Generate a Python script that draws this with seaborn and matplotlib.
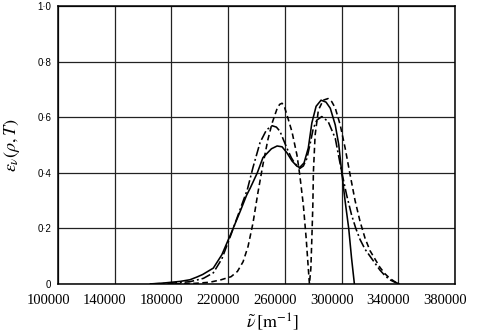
import pandas as pd
import matplotlib
matplotlib.use('Agg')
import matplotlib.pyplot as plt
import matplotlib.transforms as mtransforms
import seaborn as sns

# values (wavenumber in m^-1, emissivity)
solid_nu = [165000, 174000, 186000, 193000, 198000, 202000, 209500, 215500, 222000,
            228500, 233000, 235500, 240500, 244500, 250500, 254500, 258000, 261500,
            265000, 268500, 270500, 273500, 276500, 279000, 282000, 285500, 289000,
            292000, 295500, 298000, 300000, 302500, 305000, 307000, 309000]
solid_eps = [0.0, 0.003, 0.009, 0.015, 0.025, 0.034, 0.057, 0.105, 0.182,
             0.262, 0.32, 0.345, 0.40, 0.455, 0.487, 0.497, 0.494, 0.472,
             0.443, 0.424, 0.420, 0.436, 0.49, 0.58, 0.64, 0.662, 0.655,
             0.633, 0.573, 0.501, 0.405, 0.297, 0.2, 0.093, 0.0]

dashed_nu = [182500, 196500, 207000, 215000, 222000, 226500, 230500, 234000, 237500,
             241000, 244500, 248000, 251000, 254500, 256300, 258000, 259800, 261500,
             265000, 268500, 270500, 273000, 275000, 276500, 277300, 278300, 279000,
             279700, 280100, 281300, 283600, 287000, 290500, 293000, 295500, 299000,
             302500, 306000, 309500, 313000, 316500, 320000, 323500, 327000, 330500,
             334000, 337500, 341000]
dashed_eps = [0.0, 0.002, 0.006, 0.015, 0.026, 0.045, 0.08, 0.135, 0.22,
              0.33, 0.43, 0.52, 0.58, 0.632, 0.647, 0.651, 0.636, 0.608,
              0.548, 0.464, 0.392, 0.284, 0.164, 0.056, 0.0, 0.056, 0.164,
              0.284, 0.404, 0.536, 0.626, 0.662, 0.668, 0.657, 0.634, 0.573,
              0.489, 0.393, 0.30, 0.225, 0.165, 0.12, 0.09, 0.06, 0.037,
              0.02, 0.008, 0.0]

dashdot_nu = [165000, 179000, 193000, 202500, 209500, 215500, 222000, 228500, 233500,
              237500, 242500, 247000, 251000, 254000, 256500, 261500, 264500, 267000,
              270500, 273000, 275500, 278000, 280000, 282500, 286000, 290500, 295500,
              300000, 303500, 307000, 310000, 313000, 316500, 320000, 323500, 327000,
              330500, 334000, 337500, 341000]
dashdot_eps = [0.0, 0.002, 0.008, 0.02, 0.04, 0.09, 0.178, 0.27, 0.34,
               0.42, 0.51, 0.555, 0.57, 0.565, 0.55, 0.488, 0.455, 0.434,
               0.416, 0.425, 0.452, 0.51, 0.56, 0.59, 0.603, 0.585, 0.525,
               0.405, 0.321, 0.249, 0.2, 0.16, 0.125, 0.1, 0.075, 0.05,
               0.03, 0.015, 0.006, 0.0]

x_ticks = [100000, 140000, 180000, 220000, 260000, 300000, 340000, 380000]
y_ticks = [0, 0.2, 0.4, 0.6, 0.8, 1.0]
y_tick_labels = ['0', '0·2', '0·4', '0·6', '0·8', '1·0']

sns.set_theme(style='white')
plt.rcParams['mathtext.fontset'] = 'stix'

fig = plt.figure(figsize=(4.8, 3.36), dpi=100)
ax = fig.add_axes([0.121, 0.155, 0.827, 0.826])

curves = [
    (solid_nu, solid_eps, '-'),
    (dashed_nu, dashed_eps, (0, (3.5, 2.2))),
    (dashdot_nu, dashdot_eps, (0, (6, 1.8, 1.2, 1.8))),
]
for nu, eps, ls in curves:
    df = pd.DataFrame({'nu': nu, 'eps': eps})
    sns.lineplot(data=df, x='nu', y='eps', ax=ax, color='black',
                 linewidth=1.15, linestyle=ls, estimator=None, sort=False)

ax.set_xlim(100000, 380000)
ax.set_ylim(0, 1.0)
ax.set_xticks(x_ticks)
ax.set_xticklabels([str(v) for v in x_ticks], fontfamily='Liberation Serif', fontsize=10.5)
ax.set_yticks(y_ticks)
ax.set_yticklabels(y_tick_labels, fontfamily='Liberation Sans', fontsize=7)
ax.tick_params(axis='both', length=0, colors='black')
ax.tick_params(axis='x', pad=7)
ax.tick_params(axis='y', pad=5)

# labels in the scan sit a bit left of their gridlines
shift = mtransforms.ScaledTranslation(-0.1, 0, fig.dpi_scale_trans)
for lab in ax.get_xticklabels():
    lab.set_transform(lab.get_transform() + shift)

ax.grid(True, color='#222222', linewidth=0.9)
for sp in ax.spines.values():
    sp.set_color('black')
    sp.set_linewidth(1.1)

ax.set_xlabel(r'$\tilde{\nu}\,[\mathrm{m}^{-1}]$', fontsize=13, color='black')
ax.xaxis.set_label_coords(0.54, -0.1)
ax.set_ylabel(r'$\varepsilon_{\nu}(\rho,T)$', fontsize=13, color='black')
ax.yaxis.set_label_coords(-0.09, 0.5)

fig.savefig('out.png', dpi=100, facecolor='white')
